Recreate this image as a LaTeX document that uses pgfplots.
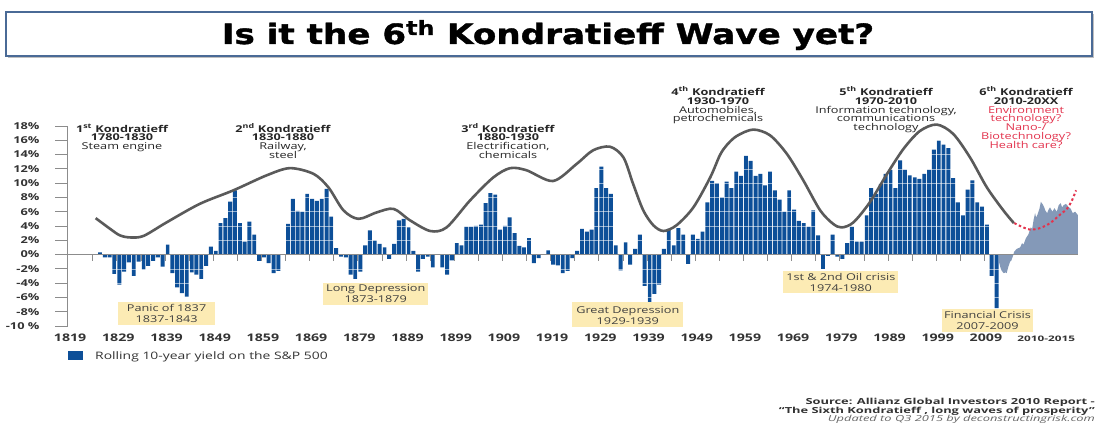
\documentclass[border=0pt]{standalone}
\usepackage{pgfplots}
\usepackage{pgfplotstable}
\pgfplotsset{compat=1.18}
\usepackage{fontspec}
\setmainfont{Open Sans}[FakeStretch=1.35]
\newfontfamily\titlefont{DejaVu Sans}[FakeStretch=1.22, BoldFeatures={FakeBold=1.3}]
\newfontfamily\srcfont{Open Sans}[FakeStretch=1.55, Ligatures=TeX]
\definecolor{barblue}{HTML}{0D4F98}
\definecolor{areablue}{HTML}{8499B8}
\definecolor{wavegray}{HTML}{5A5A5A}
\definecolor{kred}{HTML}{E3344E}
\definecolor{boxyellow}{HTML}{FCEBB4}
\definecolor{txtgray}{HTML}{333333}
\definecolor{axgray}{HTML}{8C8C8C}
\definecolor{titleframe}{HTML}{4A6A96}

\pgfplotstableread{
year val
1825 0.3
1826 -0.4
1827 -0.4
1828 -2.7
1829 -4.2
1830 -2.4
1831 -1.1
1832 -3.0
1833 -1.0
1834 -2.1
1835 -1.6
1836 -0.9
1837 -0.4
1838 -1.7
1839 1.4
1840 -2.6
1841 -4.6
1842 -5.4
1843 -5.9
1844 -2.5
1845 -2.8
1846 -3.4
1847 -1.6
1848 1.1
1849 0.5
1850 4.4
1851 5.1
1852 7.4
1853 9.0
1854 4.4
1855 1.8
1856 4.6
1857 2.8
1858 -0.9
1859 -0.4
1860 -1.2
1861 -2.6
1862 -2.3
1863 0
1864 4.3
1865 7.8
1866 6.1
1867 6.0
1868 8.5
1869 7.8
1870 7.5
1871 7.8
1872 9.2
1873 5.3
1874 0.9
1875 -0.3
1876 -0.4
1877 -2.8
1878 -3.4
1879 -2.4
1880 1.3
1881 3.4
1882 2.0
1883 1.5
1884 1.0
1885 -0.6
1886 1.5
1887 4.8
1888 5.0
1889 3.8
1890 0.5
1891 -2.4
1892 -0.6
1893 -0.3
1894 -1.8
1895 0
1896 -1.8
1897 -2.8
1898 -0.8
1899 1.6
1900 1.3
1901 3.9
1902 3.9
1903 4.0
1904 4.2
1905 7.2
1906 8.6
1907 8.4
1908 3.5
1909 4.0
1910 5.2
1911 3.0
1912 1.2
1913 1.0
1914 2.3
1915 -1.2
1916 -0.5
1917 0
1918 0.6
1919 -1.4
1920 -1.5
1921 -2.6
1922 -2.3
1923 -0.5
1924 0.5
1925 3.6
1926 3.2
1927 3.5
1928 9.3
1929 12.3
1930 9.3
1931 8.5
1932 1.3
1933 -2.2
1934 1.7
1935 -1.4
1936 0.8
1937 2.8
1938 -4.4
1939 -6.7
1940 -5.5
1941 -4.2
1942 0.8
1943 3.6
1944 1.3
1945 3.7
1946 2.8
1947 -1.3
1948 2.8
1949 2.2
1950 3.2
1951 7.3
1952 10.3
1953 10.0
1954 8.0
1955 10.2
1956 9.3
1957 11.6
1958 11.0
1959 13.8
1960 13.1
1961 11.0
1962 11.3
1963 9.7
1964 11.6
1965 9.0
1966 7.7
1967 6.0
1968 9.0
1969 6.3
1970 4.7
1971 4.4
1972 3.9
1973 6.2
1974 2.7
1975 -2.0
1976 -0.2
1977 2.8
1978 -0.3
1979 -0.6
1980 1.6
1981 3.9
1982 1.8
1983 1.8
1984 5.5
1985 9.3
1986 8.5
1987 9.9
1988 11.3
1989 11.9
1990 9.3
1991 13.2
1992 11.9
1993 11.1
1994 10.8
1995 10.6
1996 11.3
1997 11.9
1998 14.7
1999 16.0
2000 15.4
2001 14.9
2002 10.7
2003 7.3
2004 5.5
2005 9.1
2006 10.4
2007 7.3
2008 6.7
2009 4.2
2010 -3.0
2011 -7.5
}\barsdata

\pgfplotstableread{
x y
2011.45 0
2011.5 -1.0
2011.8 -1.8
2012.1 -2.3
2012.5 -2.6
2012.9 -2.5
2013.1 -2.6
2013.45 -1.7
2013.8 -1.0
2014.1 -0.8
2014.35 -0.3
2014.5 0
2014.65 0.4
2015.2 0.8
2015.9 1.0
2016.3 1.6
2016.6 1.4
2017.1 2.3
2017.6 2.8
2018.1 3.8
2018.4 3.6
2018.7 4.9
2019.0 5.8
2019.2 5.2
2019.5 5.6
2019.9 6.4
2020.2 7.4
2020.6 7.0
2020.9 6.6
2021.1 6.2
2021.5 5.8
2021.8 6.3
2022.1 6.6
2022.6 6.0
2023.0 6.5
2023.5 6.0
2023.9 6.9
2024.3 7.2
2024.6 6.6
2024.9 6.9
2025.4 7.1
2025.9 6.7
2026.4 6.4
2026.8 5.8
2027.3 6.0
2027.8 5.6
2027.9 5.5
2027.9 0
}\recentdata

\pgfplotstableread{
x y
1824.1 5.1
1827.1 3.6
1829.1 2.7
1831.2 2.4
1834.0 2.6
1838.8 4.5
1845.7 7.1
1852.7 9.0
1859.6 11.1
1864.4 12.1
1869.3 11.3
1872.4 9.4
1875.5 6.2
1878.6 5.0
1882.4 5.9
1885.9 6.4
1889.3 4.8
1893.5 3.3
1896.9 3.8
1901.8 7.6
1906.6 10.8
1910.1 12.1
1913.5 11.8
1919.0 10.3
1923.9 12.7
1927.3 14.6
1930.8 15.1
1933.6 13.6
1935.6 9.9
1937.7 6.2
1939.8 4.1
1941.9 3.3
1944.6 4.1
1948.1 6.6
1951.6 10.8
1953.6 13.9
1955.0 15.3
1957.1 16.6
1960.5 17.5
1964.0 16.7
1967.5 14.1
1970.9 10.4
1974.4 6.2
1977.1 4.3
1978.9 3.8
1981.3 4.5
1984.7 7.3
1988.2 11.2
1991.7 14.8
1995.1 17.3
1998.6 18.2
2002.0 16.9
2005.5 13.6
2009.0 9.4
2012.4 6.2
2014.6 4.4
}\wavedata

\pgfplotstableread{
x y
2014.7 4.4
2015.9 4.0
2017.9 3.5
2020.0 3.7
2022.1 4.4
2024.2 5.6
2025.6 6.4
2026.6 7.5
2027.5 9.0
}\nextwave

\newcommand{\tl}[4][]{\node[anchor=base, inner sep=0pt, #1] at (#2pt,426pt-#3pt) {#4};}
\newcommand{\kfont}{\fontsize{9.4}{10}\selectfont}
\newcommand{\bfont}{\fontsize{9.4}{10}\selectfont}

\begin{document}
\begin{tikzpicture}
\useasboundingbox (0pt,0pt) rectangle (1096pt,426pt);
\fill[white] (0pt,0pt) rectangle (1096pt,426pt);

% title box
\fill[black!25] (8pt,412pt) rectangle (1094pt,368pt);
\draw[titleframe, line width=2pt, fill=white] (6pt,414pt) rectangle (1092pt,370pt);
\node[anchor=base, inner sep=0pt, font=\titlefont\bfseries\fontsize{28}{30}\selectfont] at (548pt,382pt) {Is it the 6\textsuperscript{th} Kondratieff\ Wave yet?};

\begin{axis}[
  at={(68pt,100pt)}, anchor=south west,
  scale only axis, width=1012pt, height=200pt,
  xmin=1818.36, xmax=2028.32, ymin=-10, ymax=18,
  axis lines*=left,
  x axis line style={draw=none},
  y axis line style={axgray, line width=1pt},
  xtick={1818.8,1828.8,1838.8,1848.8,1858.8,1868.8,1878.8,1888.8,1898.8,1908.8,1918.8,1928.8,1938.8,1948.8,1958.8,1968.8,1978.8,1988.8,1998.8,2008.8},
  xticklabels={1819,1829,1839,1849,1859,1869,1879,1889,1899,1909,1919,1929,1939,1949,1959,1969,1979,1989,1999,2009},
  xtick style={draw=none},
  xticklabel style={font=\bfseries\fontsize{10.5}{11}\selectfont, text=txtgray, yshift=9pt},
  ytick={-10,-8,-6,-4,-2,0,2,4,6,8,10,12,14,16,18},
  yticklabels={-10 \%,-8\%,-6\%,-4\%,-2\%,0\%,2\%,4\%,6\%,8\%,10\%,12\%,14\%,16\%,18\%},
  yticklabel style={font=\bfseries\fontsize{9.5}{10}\selectfont, text=txtgray, xshift=-12pt},
  ytick style={axgray, line width=0.9pt},
  tick align=outside,
  major tick length=13pt,
  clip=false,
  legend style={at={(0,-0.15)}, anchor=west, draw=none, fill=none,
    font=\fontsize{10.3}{11}\selectfont, text=txtgray, inner sep=0pt},
]
\addplot[ybar, bar width=3.95pt, bar shift=0pt, fill=barblue, draw=none,
  legend image code/.code={\fill[barblue] (0pt,-4.5pt) rectangle (15pt,4.5pt);}]
  table[x=year, y=val] {\barsdata};
\addlegendentry{\hspace{10pt}Rolling 10-year yield on the S\&P 500}

\pgfplotsinvokeforeach{-8,-6,-4,-2,2,4,6,8,10,12,14,16}{
  \draw[white, opacity=0.55, line width=0.7pt] (axis cs:1819,#1) -- (axis cs:2011.5,#1);
}
\pgfplotsinvokeforeach{1823.5,1828.5,1833.5,1838.5,1843.5,1848.5,1853.5,1858.5,1863.5,1868.5,1873.5,1878.5,1883.5,1888.5,1893.5,1898.5,1903.5,1908.5,1913.5,1918.5,1923.5,1928.5,1933.5,1938.5,1943.5,1948.5,1953.5,1958.5,1963.5,1968.5,1973.5,1978.5,1983.5,1988.5,1993.5,1998.5,2003.5,2008.5}{
  \draw[white, opacity=0.8, line width=0.9pt] (axis cs:#1,-10) -- (axis cs:#1,18);
}

\addplot[fill=areablue, draw=none, forget plot] table[x=x, y=y] {\recentdata} -- cycle;

\draw[axgray, line width=1pt] (axis cs:1818.36,0) -- (axis cs:2028,0);
\pgfplotsinvokeforeach{1823.5,1828.5,1833.5,1838.5,1843.5,1848.5,1853.5,1858.5,1863.5,1868.5,1873.5,1878.5,1883.5,1888.5,1893.5,1898.5,1903.5,1908.5,1913.5,1918.5,1923.5,1928.5,1933.5,1938.5,1943.5,1948.5,1953.5,1958.5,1963.5,1968.5,1973.5,1978.5,1983.5,1988.5,1993.5,1998.5,2003.5,2008.5}{
  \draw[axgray, line width=0.9pt] (axis cs:#1,0) -- (axis cs:#1,-0.9);
}

\addplot[wavegray, line width=2.6pt, smooth, forget plot] table[x=x, y=y] {\wavedata};
\addplot[kred, line width=2pt, dash pattern=on 2.5pt off 2.5pt, smooth, forget plot] table[x=x, y=y] {\nextwave};

\node[anchor=base, inner sep=0pt, font=\srcfont\bfseries\fontsize{7.6}{8}\selectfont, text=txtgray] at (axis cs:2021.3,-12.2) {2010-2015};
\end{axis}

% Kondratieff labels
\begin{scope}[font=\kfont, text=black!85]
\tl{122}{132.5}{\bfseries 1\textsuperscript{st} Kondratieff}
\tl{122}{141}{\bfseries 1780-1830}
\tl{122}{150}{Steam engine}

\tl{283}{132.5}{\bfseries 2\textsuperscript{nd} Kondratieff}
\tl{283}{141}{\bfseries 1830-1880}
\tl{283}{150}{Railway,}
\tl{283}{159}{steel}

\tl{508}{132.5}{\bfseries 3\textsuperscript{rd} Kondratieff}
\tl{508}{141}{\bfseries 1880-1930}
\tl{508}{150}{Electrification,}
\tl{508}{159}{chemicals}

\tl{718}{95.7}{\bfseries 4\textsuperscript{th} Kondratieff}
\tl{718}{104.4}{\bfseries 1930-1970}
\tl{718}{113.2}{Automobiles,}
\tl{718}{122}{petrochemicals}

\tl{886}{95.7}{\bfseries 5\textsuperscript{th} Kondratieff}
\tl{886}{104.4}{\bfseries 1970-2010}
\tl{886}{113.2}{Information technology,}
\tl{886}{122}{communications}
\tl{886}{130.7}{technology}

\tl{1026}{95.7}{\bfseries 6\textsuperscript{th} Kondratieff}
\tl{1026}{104.4}{\bfseries 2010-20XX}
\tl[text=kred]{1026}{113.2}{Environment}
\tl[text=kred]{1026}{122}{technology?}
\tl[text=kred]{1026}{130.7}{Nano-/}
\tl[text=kred]{1026}{139.5}{Biotechnology?}
\tl[text=kred]{1026}{148.2}{Health care?}
\end{scope}

% crisis boxes
\fill[boxyellow] (118.3pt,124.3pt) rectangle (215pt,100.5pt);
\fill[boxyellow] (323.3pt,143.3pt) rectangle (428.3pt,121pt);
\fill[boxyellow] (572.3pt,123.7pt) rectangle (683.3pt,98.7pt);
\fill[boxyellow] (783.3pt,155.3pt) rectangle (898.3pt,132.7pt);
\fill[boxyellow] (941.7pt,116.7pt) rectangle (1033.3pt,94.3pt);
\begin{scope}[font=\bfont, text=black!75]
\tl{166.6}{312}{Panic of 1837}
\tl{166.6}{323}{1837-1843}
\tl{375.8}{292}{Long Depression}
\tl{375.8}{302.7}{1873-1879}
\tl{627.8}{314}{Great Depression}
\tl{627.8}{325}{1929-1939}
\tl{840.8}{280.5}{1st \& 2nd Oil crisis}
\tl{840.8}{291.7}{1974-1980}
\tl{987.5}{318.5}{Financial Crisis}
\tl{987.5}{330}{2007-2009}
\end{scope}

% source
\begin{scope}[font=\srcfont\bfseries\fontsize{8.3}{9}\selectfont, text=txtgray]
\node[anchor=base east, inner sep=0pt] at (1095pt,21pt) {Source: Allianz Global Investors 2010 Report -};
\node[anchor=base east, inner sep=0pt] at (1095pt,12.7pt) {“The Sixth Kondratieff , long waves of prosperity”};
\end{scope}
\node[anchor=base east, inner sep=0pt, font=\srcfont\itshape\fontsize{8.3}{9}\selectfont, text=black!60] at (1095pt,4.3pt) {Updated to Q3 2015 by deconstructingrisk.com};
\end{tikzpicture}
\end{document}
